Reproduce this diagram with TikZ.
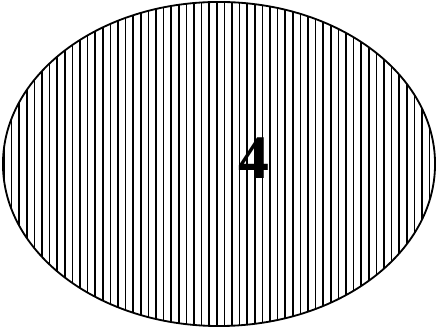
\documentclass[tikz,border=0pt]{standalone}
\usepackage{fontspec}
\setmainfont{Liberation Serif}
\usetikzlibrary{shapes.geometric}
\begin{document}
\begin{tikzpicture}[x=0.025cm, y=0.025cm]
        \useasboundingbox (0,0) rectangle (437,328);
        % Hachures verticales
        \begin{scope}
            \clip (219,164) ellipse [x radius=216, y radius=162];
            \foreach \i in {0,...,57}
                \draw [line width=1.1pt] (4+7.6*\i, 0) -- (4+7.6*\i, 328);
        \end{scope}
        % Contour
        \node [ellipse, draw, line width=1.3pt, minimum width=10.8cm, minimum height=8.1cm, inner sep=0pt] (zone) at (219,164) {};
        % Numero
        \node [font=\bfseries\fontsize{44}{44}\selectfont, inner sep=0pt] (num) at (254,170) {4};
    \end{tikzpicture}
\end{document}
